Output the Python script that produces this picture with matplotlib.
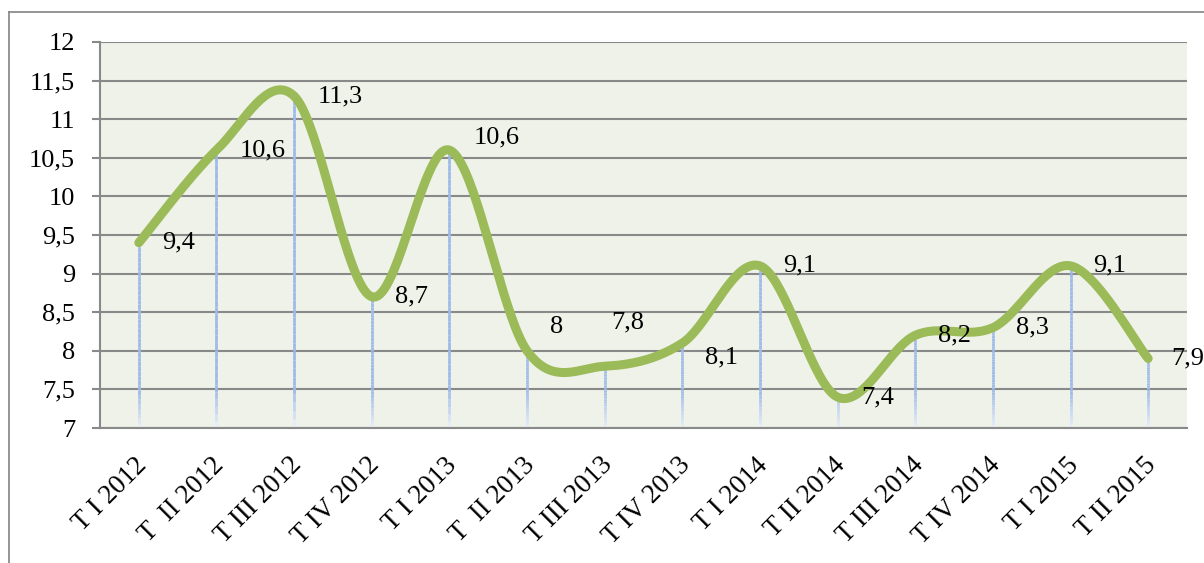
import numpy as np
import matplotlib
matplotlib.use("Agg")
import matplotlib.pyplot as plt
import matplotlib.transforms as mtransforms
from matplotlib.collections import LineCollection
from matplotlib.lines import Line2D

categories = ["T I 2012", "T  II 2012", "T III 2012", "T IV 2012",
              "T I 2013", "T  II 2013", "T III 2013", "T IV 2013",
              "T I 2014", "T II 2014", "T III 2014", "T IV 2014",
              "T I 2015", "T II 2015"]
values = [9.4, 10.6, 11.3, 8.7, 10.6, 8.0, 7.8, 8.1, 9.1, 7.4, 8.2, 8.3, 9.1, 7.9]
y_ticks = [7, 7.5, 8, 8.5, 9, 9.5, 10, 10.5, 11, 11.5, 12]

# label offsets in pixels (dx, dy), matching where the labels sit in the picture
label_dx = [23, 23, 24, 23, 24, 23, 7, 23, 23, 24, 23, 23, 23, 23]
label_dy = [0, 0, 0, 0, 13, 24, 44, -14, 0, 0, 0, 0, 0, 0]

GREEN = "#9BBB59"
GRID = "#898989"
BLUE_TOP = np.array([0.62, 0.73, 0.91])
BLUE_BOT = np.array([0.90, 0.93, 0.97])

plt.rcParams["font.family"] = ["Liberation Serif", "DejaVu Serif"]


def smooth(xs, ys, n=40):
    # bezier through the points, catmull-rom style control points
    xs = np.asarray(xs, float)
    ys = np.asarray(ys, float)
    px = np.concatenate([[xs[0]], xs, [xs[-1]]])
    py = np.concatenate([[ys[0]], ys, [ys[-1]]])
    outx, outy = [], []
    t = np.linspace(0, 1, n)
    for i in range(1, len(px) - 2):
        p0 = np.array([px[i], py[i]])
        p3 = np.array([px[i + 1], py[i + 1]])
        p1 = p0 + (np.array([px[i + 1], py[i + 1]]) - np.array([px[i - 1], py[i - 1]])) / 6
        p2 = p3 - (np.array([px[i + 2], py[i + 2]]) - np.array([px[i], py[i]])) / 6
        b = ((1 - t) ** 3)[:, None] * p0 + (3 * (1 - t) ** 2 * t)[:, None] * p1 \
            + (3 * (1 - t) * t ** 2)[:, None] * p2 + (t ** 3)[:, None] * p3
        outx.extend(b[:, 0])
        outy.extend(b[:, 1])
    return outx, outy


fig = plt.figure(figsize=(12.04, 5.63), dpi=100)
ax = fig.add_axes([100 / 1204, 1 - 428 / 563, 1087 / 1204, 386 / 563])
ax.set_facecolor("#EFF2E9")

x = np.arange(len(values))
ax.set_xlim(-0.5, len(values) - 0.5)
ax.set_ylim(7, 12)

# gridlines
for yv in y_ticks:
    ax.axhline(yv, color=GRID, lw=1.5, zorder=1)

# drop lines, fading towards the bottom
segs, cols = [], []
for xi, v in zip(x, values):
    edges = np.linspace(7, v, 40)
    for k in range(len(edges) - 1):
        segs.append([(xi, edges[k]), (xi, edges[k + 1])])
        f = min(1.0, (edges[k] - 7) / 0.45)
        cols.append(tuple(BLUE_BOT + (BLUE_TOP - BLUE_BOT) * f))
ax.add_collection(LineCollection(segs, colors=cols, linewidths=2.0, zorder=2))

sx, sy = smooth(x, values)
ax.plot(sx, sy, color=GREEN, lw=6.5, solid_capstyle="round", zorder=3)

for xi, v, dx, dy in zip(x, values, label_dx, label_dy):
    ax.annotate(("%g" % v).replace(".", ","), (xi, v), xytext=(dx * 0.72, dy * 0.72),
                textcoords="offset points", ha="left", va="center", fontsize=19,
                zorder=4, annotation_clip=False)

ax.set_yticks(y_ticks)
ax.set_yticklabels([("%g" % t).replace(".", ",") for t in y_ticks], fontsize=19)
ax.tick_params(axis="y", length=6, width=1.5, color=GRID, pad=12)

ax.set_xticks(x)
ax.set_xticklabels(categories, rotation=45, ha="right", va="center",
                   rotation_mode="anchor", fontsize=19.5)
ax.tick_params(axis="x", length=0, pad=24)
offset = mtransforms.ScaledTranslation(4 / 100, 0, fig.dpi_scale_trans)
for lab in ax.get_xticklabels():
    lab.set_transform(lab.get_transform() + offset)

for s in ["top", "right"]:
    ax.spines[s].set_visible(False)
for s in ["left", "bottom"]:
    ax.spines[s].set_color(GRID)
    ax.spines[s].set_linewidth(1.5)

# chart border (only top and left edges fall inside the picture)
fig.add_artist(Line2D([9 / 1204, 9 / 1204], [0, 1 - 12 / 563], transform=fig.transFigure,
                      color="#8C8C8C", lw=1.3))
fig.add_artist(Line2D([9 / 1204, 1], [1 - 12 / 563, 1 - 12 / 563], transform=fig.transFigure,
                      color="#8C8C8C", lw=1.3))

fig.savefig("out.png", dpi=100)
